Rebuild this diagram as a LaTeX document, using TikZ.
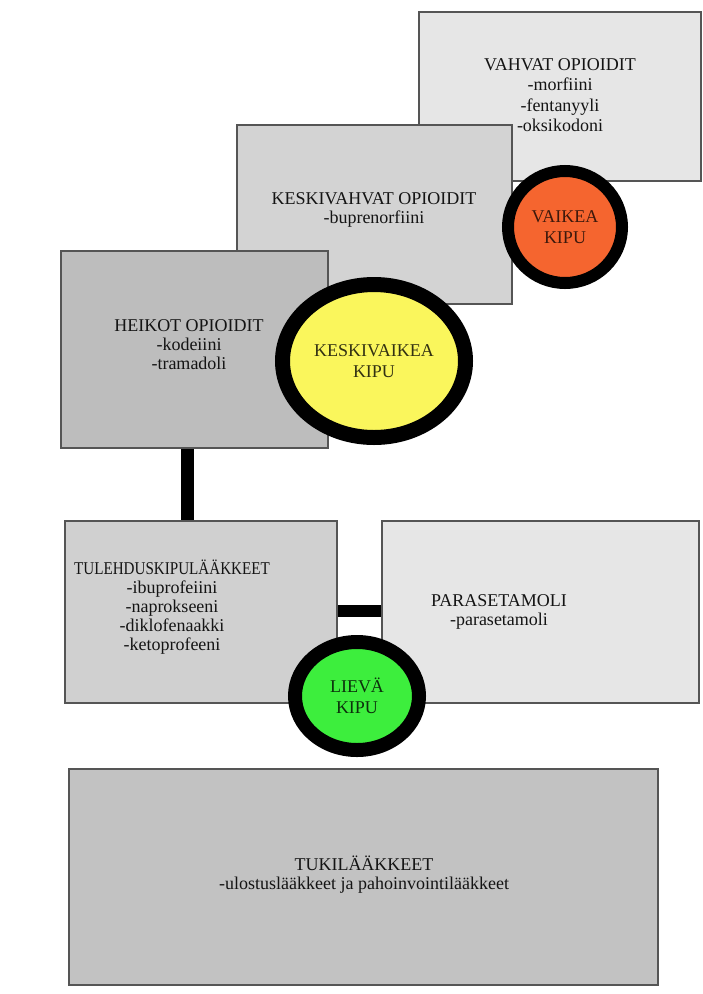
\documentclass[tikz,border=0pt]{standalone}
\usepackage{fontspec}
\setmainfont{Liberation Serif}
\usetikzlibrary{shapes.geometric}
\definecolor{boxline}{HTML}{555555}
\definecolor{greyA}{HTML}{E6E6E6}
\definecolor{greyB}{HTML}{D3D3D3}
\definecolor{greyC}{HTML}{BDBDBD}
\definecolor{greyD}{HTML}{D0D0D0}
\definecolor{greyE}{HTML}{C2C2C2}
\definecolor{painO}{HTML}{F5652F}
\definecolor{painY}{HTML}{FAF65C}
\definecolor{painG}{HTML}{3DEE3D}
\definecolor{txt}{HTML}{141414}
\tikzset{
  drugbox/.style={draw=boxline, line width=1.8pt, anchor=north west, inner sep=0pt},
  label/.style={align=center, text=txt, font=\fontsize{18}{19}\selectfont, inner sep=0pt},
  pain/.style={ellipse, draw=black, inner sep=0pt, align=center,
               font=\fontsize{18}{21}\selectfont},
  bar/.style={draw=black, line width=13pt},
}
\begin{document}
\begin{tikzpicture}[x=1pt, y=-1pt]
  \useasboundingbox (0,0) rectangle (702,994);
  \fill[white] (0,0) rectangle (702,994);

  % opioid steps, back to front
  \node[drugbox, fill=greyA, minimum width=282pt, minimum height=169pt] (vahvat) at (418,11) {};
  \node[label, font=\fontsize{18}{20.5}\selectfont] (vahvatT) at (560,95)
    {VAHVAT OPIOIDIT\\-morfiini\\-fentanyyli\\-oksikodoni};
  \node[drugbox, fill=greyB, minimum width=275pt, minimum height=179pt] (keski) at (236,124) {};
  \node[label] (keskiT) at (374,210) {KESKIVAHVAT OPIOIDIT\\-buprenorfiini};
  \node[drugbox, fill=greyC, minimum width=267pt, minimum height=197pt] (heikot) at (60,250) {};
  \node[label] (heikotT) at (189,345) {HEIKOT OPIOIDIT\\-kodeiini\\-tramadoli};

  % pain levels for the opioid steps
  \node[pain, fill=painO, line width=12pt, minimum width=114pt, minimum height=112pt,
        text=painO!25!black] (vaikea) at (565,227) {VAIKEA\\KIPU};
  \node[pain, fill=painY, line width=15pt, minimum width=183pt, minimum height=153pt,
        text=painY!20!black] (keskivaikea) at (374,361) {KESKIVAIKEA\\KIPU};

  % first step
  \node[drugbox, fill=greyD, minimum width=272pt, minimum height=182pt] (tuleh) at (64,520) {};
  \node[label] (tulehT) at (172,607)
    {\scalebox{0.84}[1]{TULEHDUSKIPULÄÄKKEET}\\-ibuprofeiini\\-naprokseeni\\-diklofenaakki\\-ketoprofeeni};
  \node[drugbox, fill=greyA, minimum width=317pt, minimum height=182pt] (para) at (381,520) {};
  \node[label] (paraT) at (499,612) {PARASETAMOLI\\-parasetamoli};

  % connecting bars
  \draw[bar] (heikot.south -| 187.5,0) -- (tuleh.north -| 187.5,0);
  \draw[bar, line width=12pt] (tuleh.east |- 0,611) -- (para.west |- 0,611);

  \node[pain, fill=painG, line width=14pt, minimum width=124pt, minimum height=108pt,
        text=painG!20!black] (lieva) at (357,696) {LIEVÄ\\KIPU};

  % supportive medication
  \node[drugbox, fill=greyE, minimum width=589pt, minimum height=216pt] (tuki) at (68,768) {};
  \node[label] (tukiT) at (364,875) {TUKILÄÄKKEET\\-ulostuslääkkeet ja pahoinvointilääkkeet};
\end{tikzpicture}
\end{document}
